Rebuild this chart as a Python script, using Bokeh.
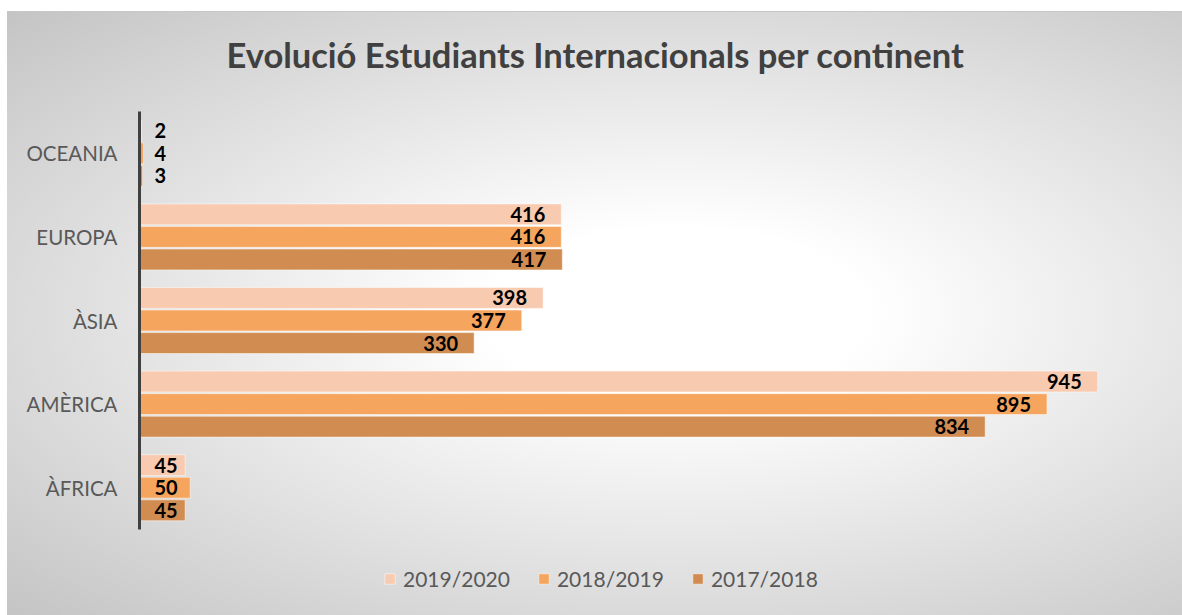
from bokeh.plotting import figure
from bokeh.models import ColumnDataSource, Range1d, Legend, LegendItem, FixedTicker, Label
from bokeh.core.properties import value
from bokeh.embed import file_html
from bokeh.resources import INLINE

# ---- data ----
continents = ["ÀFRICA", "AMÈRICA", "ÀSIA", "EUROPA", "OCEANIA"]
s2019_2020 = [45, 945, 398, 416, 2]
s2018_2019 = [50, 895, 377, 416, 4]
s2017_2018 = [45, 834, 330, 417, 3]
series_names = ["2019/2020", "2018/2019", "2017/2018"]
series_colors = ["#F8CAB0", "#F5A55E", "#D18C52"]
title_text = "Evolució Estudiants Internacionals per continent"

FONT = "Lato"

n = len(continents)
centers = [i + 0.5 for i in range(n)]
unit_px = 418 / n                 # pixel height of one category band
top_px, bottom_px = 99, 87        # space above / below the category bands (title, legend)
frame_h = 418 + top_px + bottom_px
y_start = -bottom_px / unit_px
y_end = n + top_px / unit_px

p = figure(
    y_range=Range1d(y_start, y_end),
    x_range=Range1d(0, 1000),
    frame_width=1014, frame_height=frame_h,
    min_border_left=132, min_border_right=29,
    min_border_top=0, min_border_bottom=0,
    output_backend="svg", toolbar_location=None,
)
p.styles = {
    "margin-top": "11px",
    "margin-left": "7px",
    "border-top": "1px solid #c8c8c8",
    "background": "radial-gradient(ellipse at 57% 50%, #ffffff 0%, #ffffff 20%, #c4c4c4 100%)",
}
p.background_fill_color = None
p.border_fill_color = None
p.outline_line_color = None

p.add_layout(Label(
    x=456, y=frame_h - 42, x_units="screen", y_units="screen", text=title_text,
    text_align="center", text_baseline="middle", text_font=FONT,
    text_font_size="34.5px", text_font_style="bold", text_color="#404040",
))

p.xaxis.visible = False
p.xgrid.visible = False
p.ygrid.visible = False
p.yaxis.ticker = FixedTicker(ticks=centers)
p.yaxis.major_label_overrides = {c: name for c, name in zip(centers, continents)}
p.yaxis.axis_line_color = None
p.yaxis.major_tick_line_color = None
p.yaxis.minor_tick_line_color = None
p.yaxis.major_label_text_font = FONT
p.yaxis.major_label_text_font_size = "20.5px"
p.yaxis.major_label_text_color = "#595959"
p.yaxis.major_label_standoff = 16

# vertical category axis line (spans the category bands only)
p.segment(x0=[0], y0=[0], x1=[0], y1=[n], line_color="#404040", line_width=3, level="overlay")

offsets = [0.27, 0.0, -0.27]
all_series = [s2019_2020, s2018_2019, s2017_2018]
items = []
for name, color, vals, off in zip(series_names, series_colors, all_series, offsets):
    ys = [c + off for c in centers]
    src = ColumnDataSource(dict(y=ys, val=vals))
    r = p.hbar(y="y", right="val", left=0, height=0.25,
               fill_color=color, line_color="#ffffff", line_alpha=0.5, line_width=1,
               source=src)
    items.append(LegendItem(label=name, renderers=[r]))

    big = [(y, v) for y, v in zip(ys, vals) if v >= 100]
    small = [(y, v) for y, v in zip(ys, vals) if v < 100]
    if big:
        bsrc = ColumnDataSource(dict(y=[b[0] for b in big], val=[b[1] for b in big],
                                     lab=[str(b[1]) for b in big]))
        p.text(x="val", y="y", text="lab", source=bsrc,
               text_align="right", text_baseline="middle", x_offset=-16,
               text_font=value(FONT), text_font_style="bold", text_font_size="20px",
               text_color="#000000")
    if small:
        ssrc = ColumnDataSource(dict(y=[b[0] for b in small], zero=[0] * len(small),
                                     lab=[str(b[1]) for b in small]))
        p.text(x="zero", y="y", text="lab", source=ssrc,
               text_align="left", text_baseline="middle", x_offset=15,
               text_font=value(FONT), text_font_style="bold", text_font_size="20px",
               text_color="#000000")

legend = Legend(items=items, orientation="horizontal", location=(244, 25))
legend.background_fill_alpha = 0
legend.border_line_color = None
legend.label_text_font = FONT
legend.label_text_font_size = "21px"
legend.label_text_color = "#595959"
legend.glyph_width = 13
legend.glyph_height = 13
legend.spacing = 27
legend.label_standoff = 7
legend.margin = 0
legend.padding = 10
p.add_layout(legend, "center")

open("out.html", "w").write(file_html(p, INLINE))
